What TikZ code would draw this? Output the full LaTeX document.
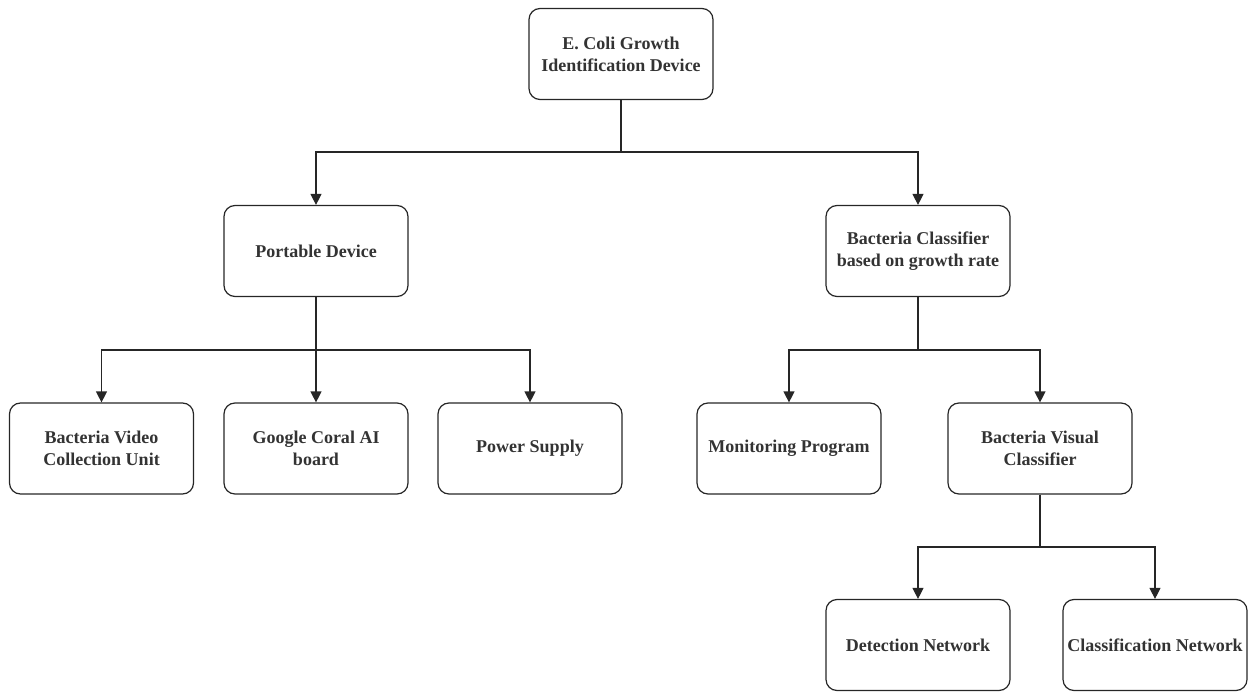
\documentclass[tikz,border=0pt]{standalone}
\usepackage{fontspec}
\setmainfont{Liberation Serif}
\usetikzlibrary{arrows.meta}
\begin{document}
\begin{tikzpicture}[x=1pt,y=-1pt,
  box/.style={draw=black!85,line width=1.2pt,rounded corners=11pt,minimum width=184pt,minimum height=91pt,
    align=center,font=\fontsize{18}{22}\selectfont\bfseries,text=black!80,inner sep=1pt},
  conn/.style={draw=black!85,line width=1.2pt},
  arr/.style={conn,-{Triangle[length=11pt,width=11pt]}}]
\useasboundingbox (0,0) rectangle (1255,692);
\node[box] (root) at (621,54) {E. Coli Growth\\Identification Device};
\node[box] (pd) at (316,251) {Portable Device};
\node[box] (bc) at (918,251) {Bacteria Classifier\\based on growth rate};
\node[box] (vc) at (101.5,448.5) {Bacteria Video\\Collection Unit};
\node[box] (gc) at (316,448.5) {Google Coral AI\\board};
\node[box] (ps) at (530,448.5) {Power Supply};
\node[box] (mp) at (789,448.5) {Monitoring Program};
\node[box] (bv) at (1040,448.5) {Bacteria Visual\\Classifier};
\node[box] (dn) at (918,645) {Detection Network};
\node[box] (cn) at (1155,645) {Classification Network};
\coordinate (j1) at (621,152);
\coordinate (j2) at (316,350);
\coordinate (j3) at (918,350);
\coordinate (j4) at (1040,547);
\draw[conn] (root.south) -- (j1);
\draw[arr] (j1) -| (pd.north);
\draw[arr] (j1) -| (bc.north);
\draw[conn] (pd.south) -- (j2);
\draw[arr] (j2) -| (vc.north);
\draw[arr] (j2) -- (gc.north);
\draw[arr] (j2) -| (ps.north);
\draw[conn] (bc.south) -- (j3);
\draw[arr] (j3) -| (mp.north);
\draw[arr] (j3) -| (bv.north);
\draw[conn] (bv.south) -- (j4);
\draw[arr] (j4) -| (dn.north);
\draw[arr] (j4) -| (cn.north);
\end{tikzpicture}
\end{document}
